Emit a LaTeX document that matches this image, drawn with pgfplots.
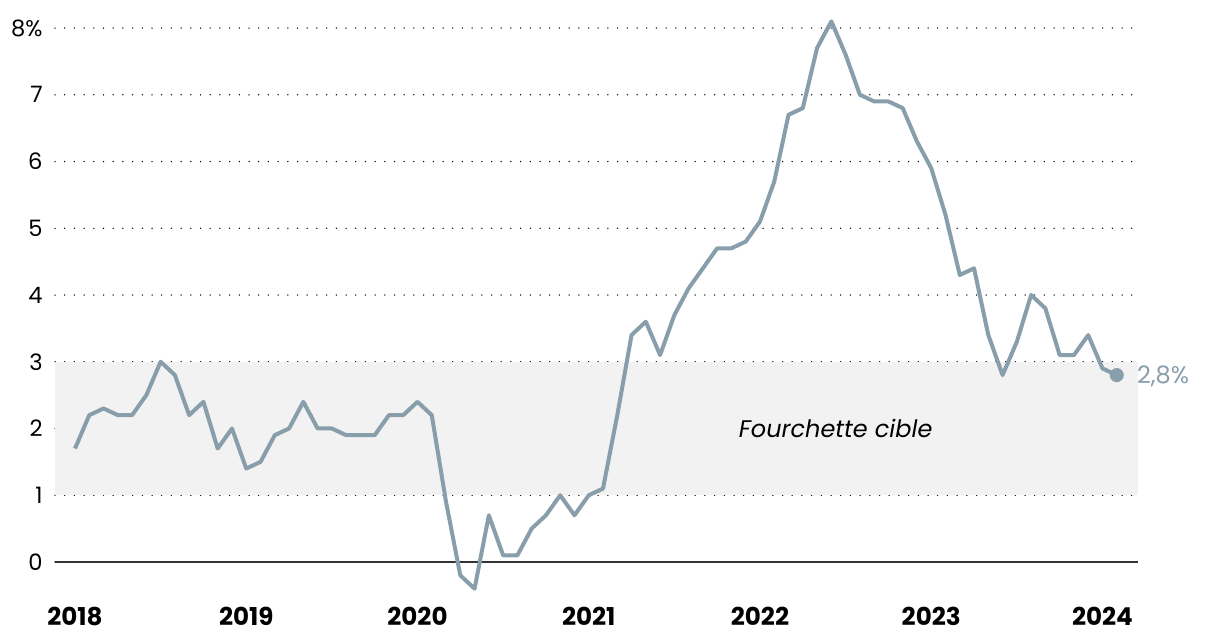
\documentclass[border=0pt]{standalone}
\usepackage{fontspec}
\setmainfont{Poppins}
\usepackage{pgfplots}
\pgfplotsset{compat=1.18}
\definecolor{linec}{RGB}{136,159,171}
\definecolor{bandc}{RGB}{242,242,242}
\definecolor{zeroc}{RGB}{51,51,51}
\begin{document}
\begin{tikzpicture}
\begin{axis}[
  set layers,
  scale only axis,
  width=541.5pt, height=293.7pt,
  at={(27.5pt,16.975pt)}, anchor=south west,
  xmin=-1.4016, xmax=74.49,
  ymin=-0.6, ymax=8.2,
  axis line style={draw=none},
  major tick length=0pt,
  xtick={0,12,24,36,48,60,72},
  xticklabels={2018,2019,2020,2021,2022,2023,2024},
  ytick={0,1,2,3,4,5,6,7,8},
  yticklabels={0,1,2,3,4,5,6,7,8\%},
  xticklabel style={anchor=north, inner sep=0pt, yshift=-2.3pt, font=\fontsize{12.3}{14}\selectfont\bfseries},
  yticklabel style={anchor=east, inner sep=0pt, xshift=-6pt, font=\fontsize{11.3}{13}\selectfont},
  ymajorgrids,
  major grid style={black, line width=0.75pt, line cap=round, dash pattern=on 0pt off 4.85pt},
  clip=false,
]
\fill[bandc, on layer=axis background] (axis cs:-1.4016,1) rectangle (axis cs:74.49,3);
\draw[zeroc, line width=1pt] (axis cs:-1.4016,0) -- (axis cs:74.49,0);
\node[fill=bandc, inner sep=1.5pt, font=\fontsize{12}{14}\selectfont\itshape] at (axis cs:53.3,2) {Fourchette cible};
\addplot[linec, line width=2pt, line join=round, mark=none] coordinates {
(0,1.7) (1,2.2) (2,2.3) (3,2.2) (4,2.2) (5,2.5) (6,3.0) (7,2.8) (8,2.2) (9,2.4) (10,1.7) (11,2.0)
(12,1.4) (13,1.5) (14,1.9) (15,2.0) (16,2.4) (17,2.0) (18,2.0) (19,1.9) (20,1.9) (21,1.9) (22,2.2) (23,2.2)
(24,2.4) (25,2.2) (26,0.9) (27,-0.2) (28,-0.4) (29,0.7) (30,0.1) (31,0.1) (32,0.5) (33,0.7) (34,1.0) (35,0.7)
(36,1.0) (37,1.1) (38,2.2) (39,3.4) (40,3.6) (41,3.1) (42,3.7) (43,4.1) (44,4.4) (45,4.7) (46,4.7) (47,4.8)
(48,5.1) (49,5.7) (50,6.7) (51,6.8) (52,7.7) (53,8.1) (54,7.6) (55,7.0) (56,6.9) (57,6.9) (58,6.8) (59,6.3)
(60,5.9) (61,5.2) (62,4.3) (63,4.4) (64,3.4) (65,2.8) (66,3.3) (67,4.0) (68,3.8) (69,3.1) (70,3.1) (71,3.4)
(72,2.9) (73,2.8)
};
\addplot[linec, only marks, mark=*, mark size=3.3pt] coordinates {(73,2.8)};
\node[anchor=west, inner sep=0pt, xshift=10pt, yshift=-0.5pt, text=linec, font=\fontsize{12}{14}\selectfont] at (axis cs:73,2.8) {2,8\%};
\end{axis}
\path (0,0) rectangle (610pt,318pt);
\end{tikzpicture}
\end{document}
